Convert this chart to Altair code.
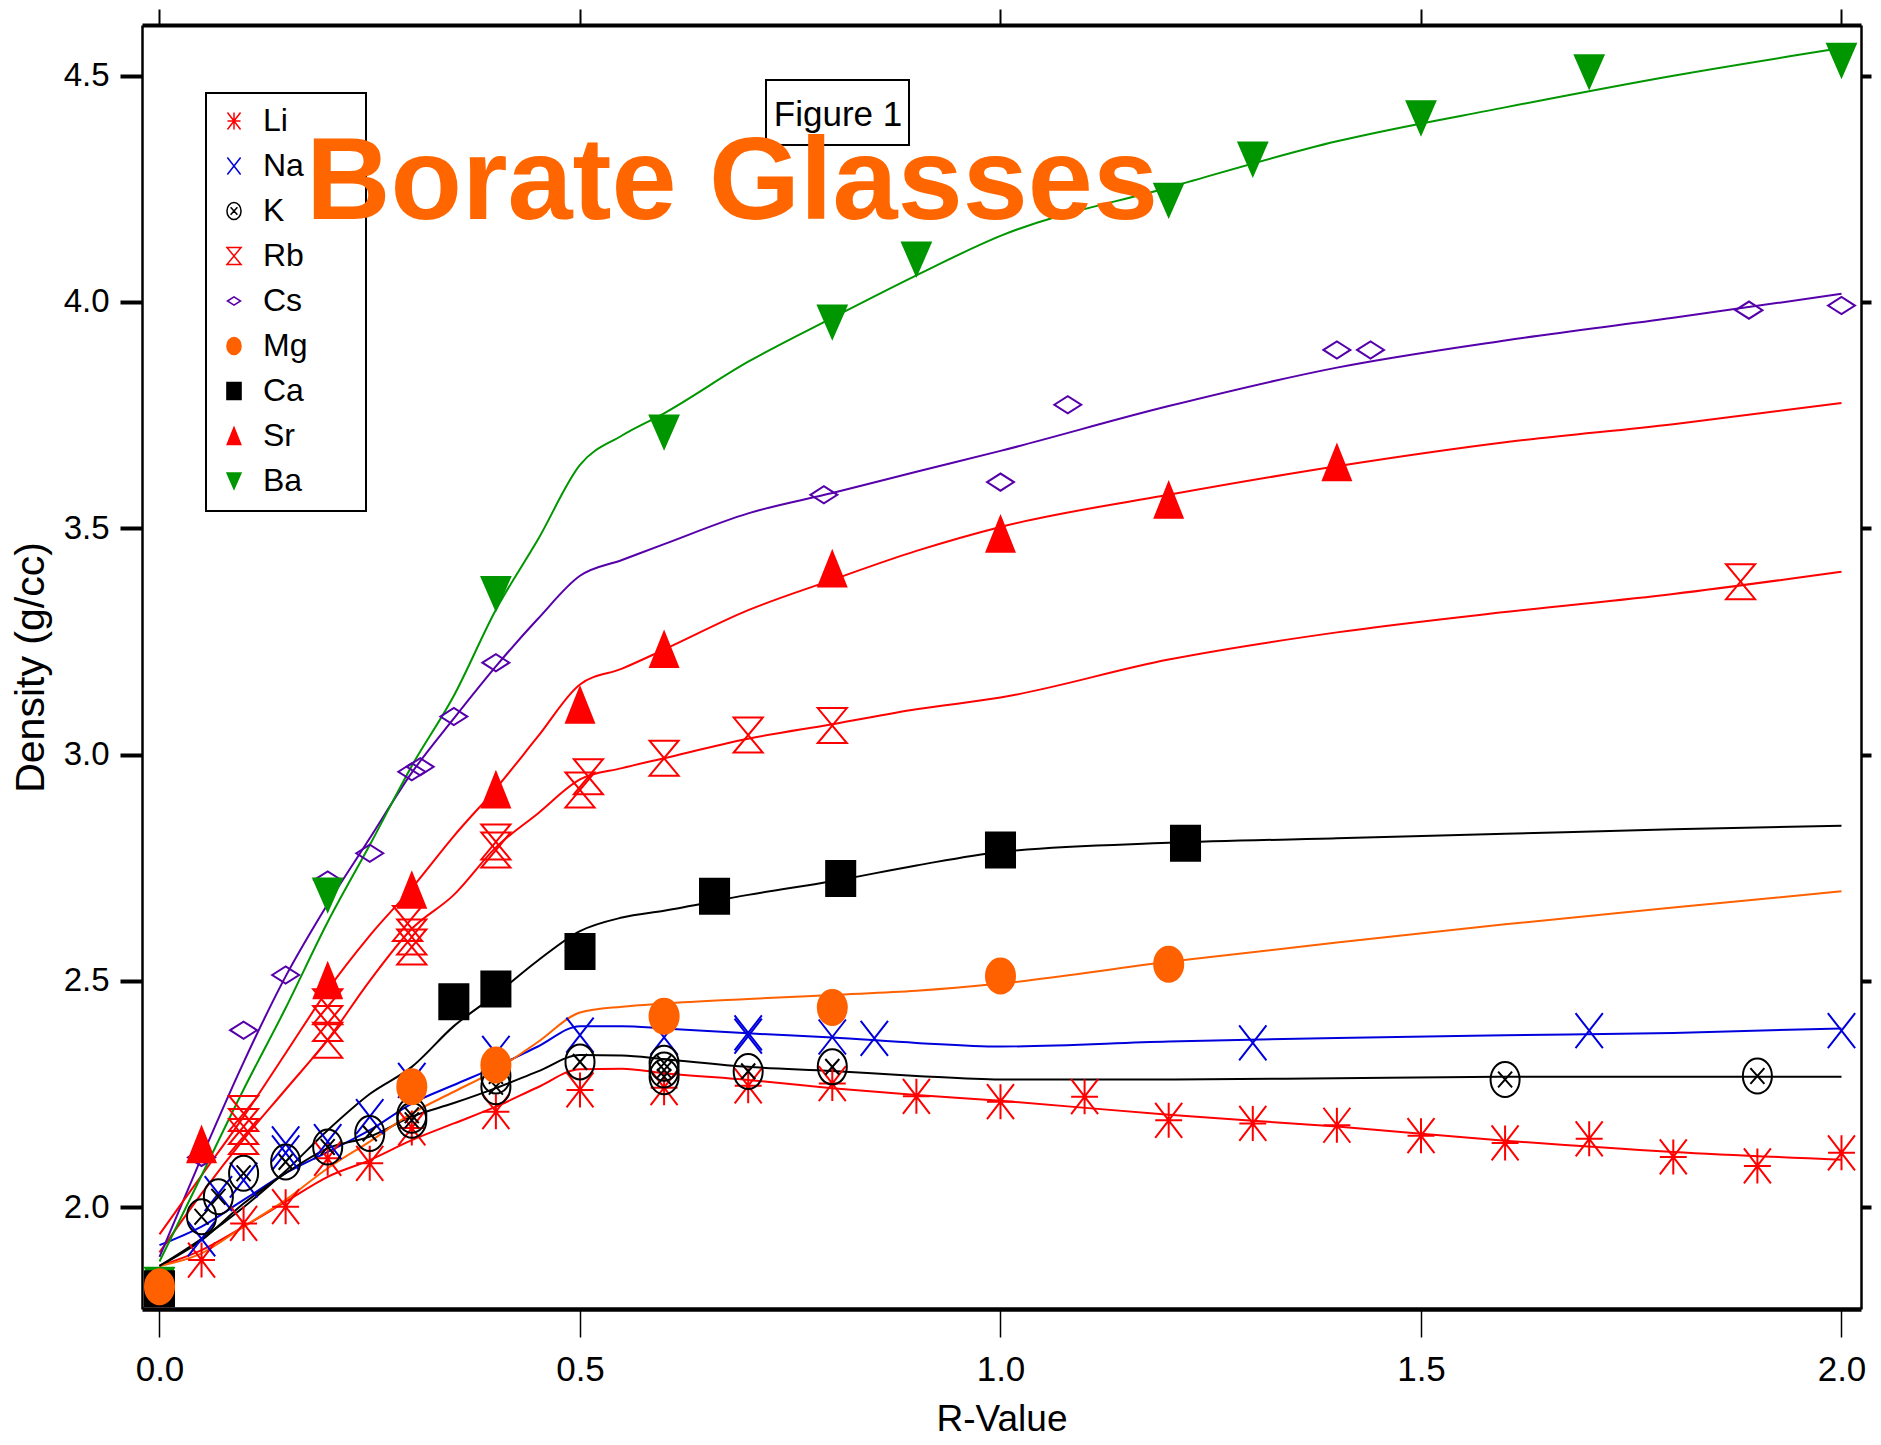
import altair as alt
import pandas as pd

FONT = "'Liberation Sans', Arial, sans-serif"

series_names = ["Li", "Na", "K", "Rb", "Cs", "Mg", "Ca", "Sr", "Ba"]
curve_names = ["Li fit", "Na fit", "K fit", "Rb fit", "Cs fit", "Mg fit", "Ca fit", "Sr fit", "Ba fit"]

# ---- measured points (R-value, density) ----
li_x = [0.05, 0.1, 0.15, 0.2, 0.25, 0.3, 0.4, 0.5, 0.6, 0.7, 0.8, 0.9, 1.0, 1.1, 1.2, 1.3, 1.4, 1.5, 1.6, 1.7, 1.8, 1.9, 2.0]
li_y = [1.883, 1.964, 2.001, 2.108, 2.097, 2.175, 2.211, 2.259, 2.264, 2.268, 2.273, 2.245, 2.233, 2.244, 2.192, 2.185, 2.181, 2.158, 2.142, 2.151, 2.111, 2.091, 2.120]

na_x = [0.05, 0.07, 0.1, 0.15, 0.15, 0.2, 0.25, 0.3, 0.4, 0.5, 0.6, 0.7, 0.7, 0.8, 0.85, 1.3, 1.7, 2.0]
na_y = [1.93, 2.03, 2.06, 2.12, 2.14, 2.145, 2.20, 2.28, 2.34, 2.38, 2.375, 2.378, 2.385, 2.376, 2.373, 2.363, 2.39, 2.39]

k_x = [0.05, 0.07, 0.1, 0.15, 0.2, 0.25, 0.3, 0.3, 0.4, 0.4, 0.5, 0.6, 0.6, 0.6, 0.7, 0.8, 1.6, 1.9]
k_y = [1.979, 2.023, 2.075, 2.100, 2.133, 2.163, 2.192, 2.203, 2.266, 2.29, 2.321, 2.318, 2.303, 2.288, 2.300, 2.310, 2.282, 2.290]

rb_x = [0.1, 0.1, 0.1, 0.2, 0.2, 0.2, 0.295, 0.3, 0.3, 0.4, 0.4, 0.5, 0.51, 0.6, 0.7, 0.8, 1.88]
rb_y = [2.207, 2.178, 2.156, 2.443, 2.406, 2.369, 2.627, 2.597, 2.575, 2.807, 2.789, 2.922, 2.951, 2.992, 3.043, 3.064, 3.382]

cs_x = [0.05, 0.1, 0.15, 0.2, 0.25, 0.3, 0.31, 0.35, 0.4, 0.79, 1.0, 1.08, 1.4, 1.44, 1.89, 2.0]
cs_y = [2.11, 2.391, 2.513, 2.723, 2.782, 2.962, 2.973, 3.084, 3.203, 3.574, 3.602, 3.773, 3.894, 3.894, 3.982, 3.992]

mg_x = [0.0, 0.3, 0.4, 0.6, 0.8, 1.0, 1.2]
mg_y = [1.824, 2.266, 2.314, 2.422, 2.441, 2.511, 2.537]

ca_x = [0.0, 0.35, 0.4, 0.5, 0.66, 0.81, 1.0, 1.22]
ca_y = [1.82, 2.454, 2.482, 2.565, 2.687, 2.726, 2.789, 2.804]

sr_x = [0.05, 0.2, 0.3, 0.4, 0.5, 0.6, 0.8, 1.0, 1.2, 1.4]
sr_y = [2.138, 2.50, 2.70, 2.922, 3.109, 3.232, 3.41, 3.487, 3.562, 3.645]

ba_x = [0.0, 0.2, 0.4, 0.6, 0.8, 0.9, 1.2, 1.3, 1.5, 1.7, 2.0]
ba_y = [1.83, 2.690, 3.356, 3.713, 3.956, 4.095, 4.225, 4.316, 4.407, 4.509, 4.534]

# ---- fitted curves ----
curve_x = [0, 0.05, 0.1, 0.15, 0.2, 0.25, 0.3, 0.35, 0.4, 0.45, 0.5, 0.55, 0.6, 0.7, 0.8, 0.9, 1.0, 1.2, 1.4, 1.6, 1.8, 2.0]
li_fit = [1.87, 1.905, 1.957, 2.012, 2.067, 2.104, 2.148, 2.185, 2.222, 2.265, 2.305, 2.306, 2.296, 2.281, 2.263, 2.248, 2.235, 2.204, 2.178, 2.147, 2.122, 2.105]
na_fit = [1.916, 1.957, 2.016, 2.075, 2.122, 2.170, 2.229, 2.27, 2.31, 2.355, 2.400, 2.400, 2.395, 2.384, 2.375, 2.363, 2.355, 2.366, 2.374, 2.380, 2.385, 2.395]
k_fit = [1.87, 1.927, 2.008, 2.075, 2.130, 2.156, 2.200, 2.23, 2.263, 2.30, 2.336, 2.335, 2.327, 2.310, 2.301, 2.290, 2.282, 2.282, 2.285, 2.288, 2.288, 2.288]
rb_fit = [1.90, 2.03, 2.15, 2.26, 2.37, 2.50, 2.615, 2.69, 2.795, 2.87, 2.945, 2.97, 2.992, 3.035, 3.067, 3.10, 3.126, 3.21, 3.27, 3.315, 3.355, 3.404]
cs_fit = [1.89, 2.11, 2.32, 2.51, 2.67, 2.815, 2.96, 3.08, 3.195, 3.30, 3.395, 3.43, 3.465, 3.533, 3.578, 3.625, 3.671, 3.77, 3.855, 3.915, 3.965, 4.018]
mg_fit = [1.87, 1.898, 1.957, 2.016, 2.086, 2.145, 2.207, 2.255, 2.303, 2.365, 2.430, 2.443, 2.450, 2.460, 2.469, 2.478, 2.494, 2.542, 2.585, 2.625, 2.662, 2.698]
ca_fit = [1.87, 1.93, 2.00, 2.08, 2.17, 2.25, 2.31, 2.40, 2.47, 2.545, 2.61, 2.64, 2.655, 2.69, 2.72, 2.755, 2.785, 2.805, 2.815, 2.825, 2.835, 2.843]
sr_fit = [1.94, 2.07, 2.20, 2.34, 2.48, 2.60, 2.705, 2.82, 2.925, 3.04, 3.155, 3.19, 3.232, 3.319, 3.386, 3.45, 3.503, 3.574, 3.637, 3.69, 3.73, 3.777]
ba_fit = [1.88, 2.07, 2.26, 2.44, 2.63, 2.80, 2.975, 3.13, 3.32, 3.475, 3.64, 3.705, 3.754, 3.868, 3.965, 4.059, 4.146, 4.253, 4.355, 4.43, 4.50, 4.561]

# ---- styles ----
series_colors = ["#FF0000", "#0000DD", "#000000", "#FF0000", "#5500AA", "#FF6000", "#000000", "#FF0000", "#009600"]
NOFILL = "rgba(0,0,0,0)"
fill_colors = [NOFILL, NOFILL, NOFILL, NOFILL, NOFILL, "#FF6000", "#000000", "#FF0000", "#009600"]
shape_paths = [
    "M0,-1L0,1M-0.77,0L0.77,0M-0.77,-1L0.77,1M0.77,-1L-0.77,1",          # Li asterisk
    "M-0.78,-1L0.78,1M0.78,-1L-0.78,1",                                   # Na cross
    "M-0.83,0A0.83 1 0 1 1 0.83,0A0.83 1 0 1 1 -0.83,0ZM-0.4,-0.45L0.4,0.45M0.4,-0.45L-0.4,0.45",  # K circled x
    "M-0.83,-1L0.83,-1L-0.83,1L0.83,1Z",                                  # Rb hourglass
    "M-0.77,0L0,-0.49L0.77,0L0,0.49Z",                                    # Cs diamond
    "M-0.83,0A0.83 1 0 1 1 0.83,0A0.83 1 0 1 1 -0.83,0Z",                 # Mg disc
    "M-0.83,-1L0.83,-1L0.83,1L-0.83,1Z",                                  # Ca square
    "M0,-1L0.8,1L-0.8,1Z",                                                # Sr triangle up
    "M-0.82,-0.94L0.82,-0.94L0,0.94Z",                                    # Ba triangle down
]

point_sets = {"Li": (li_x, li_y), "Na": (na_x, na_y), "K": (k_x, k_y), "Rb": (rb_x, rb_y),
              "Cs": (cs_x, cs_y), "Mg": (mg_x, mg_y), "Ca": (ca_x, ca_y), "Sr": (sr_x, sr_y), "Ba": (ba_x, ba_y)}
fit_sets = {"Li": li_fit, "Na": na_fit, "K": k_fit, "Rb": rb_fit, "Cs": cs_fit,
            "Mg": mg_fit, "Ca": ca_fit, "Sr": sr_fit, "Ba": ba_fit}
draw_order = ["Li", "Na", "K", "Rb", "Cs", "Sr", "Ba", "Ca", "Mg"]

pts_rows = []
for s in draw_order:
    xs, ys = point_sets[s]
    for a, b in zip(xs, ys):
        pts_rows.append({"series": s, "r": a, "d": b})
points_df = pd.DataFrame(pts_rows)

curve_rows = []
for s, cname in zip(series_names, curve_names):
    for a, b in zip(curve_x, fit_sets[s]):
        curve_rows.append({"curve": cname, "r": a, "d": b})
curves_df = pd.DataFrame(curve_rows)

x_scale = alt.Scale(domain=[-0.0208, 2.0232], nice=False, zero=False)
y_scale = alt.Scale(domain=[1.775, 4.612], nice=False, zero=False)
x_ticks = [0.0, 0.5, 1.0, 1.5, 2.0]
y_ticks = [2.0, 2.5, 3.0, 3.5, 4.0, 4.5]

lines = alt.Chart(curves_df).mark_line(strokeWidth=2, interpolate="monotone").encode(
    x=alt.X("r:Q", scale=x_scale, axis=alt.Axis(
        orient="bottom", values=x_ticks, format=".1f", grid=False,
        tickSize=28, tickWidth=1.5, tickColor="black", domainColor="black", domainWidth=4.5,
        labelFont=FONT, labelFontSize=35, labelColor="black", labelPadding=15,
        title="R-Value", titleFont=FONT, titleFontSize=37, titleFontWeight="normal",
        titleColor="black", titlePadding=14)),
    y=alt.Y("d:Q", scale=y_scale, axis=alt.Axis(
        orient="left", values=y_ticks, format=".1f", grid=False,
        tickSize=22, tickWidth=4, tickColor="black", domainColor="black", domainWidth=2.5,
        labelFont=FONT, labelFontSize=33, labelColor="black", labelPadding=11,
        title="Density (g/cc)", titleFont=FONT, titleFontSize=41, titleFontWeight="normal",
        titleColor="black", titlePadding=11)),
    color=alt.Color("curve:N", scale=alt.Scale(domain=curve_names, range=series_colors), legend=None),
)

legend = alt.Legend(title=None, orient="none", legendX=76, legendY=80, padding=0,
                    symbolSize=289, symbolStrokeWidth=1.5, labelFont=FONT, labelFontSize=32,
                    labelColor="black", labelOffset=13, rowPadding=13)

points = alt.Chart(points_df).mark_point(size=1225, opacity=1, strokeWidth=2).encode(
    x=alt.X("r:Q", scale=x_scale, axis=alt.Axis(
        orient="top", values=x_ticks, labels=False, grid=False, title=None, minExtent=0,
        tickSize=16, tickWidth=2, tickColor="black", domainColor="black", domainWidth=4)),
    y=alt.Y("d:Q", scale=y_scale, axis=alt.Axis(
        orient="right", values=y_ticks, labels=False, grid=False, title=None, minExtent=0,
        tickSize=10, tickWidth=4, tickColor="black", domainColor="black", domainWidth=2.5)),
    shape=alt.Shape("series:N", scale=alt.Scale(domain=series_names, range=shape_paths), legend=legend),
    fill=alt.Fill("series:N", scale=alt.Scale(domain=series_names, range=fill_colors), legend=legend),
    stroke=alt.Stroke("series:N", scale=alt.Scale(domain=series_names, range=series_colors), legend=legend),
)

one = pd.DataFrame({"k": [0]})
legend_frame = alt.Chart(one).mark_rect(fill="white", stroke="black", strokeWidth=2).encode(
    x=alt.value(64), x2=alt.value(224), y=alt.value(68), y2=alt.value(486))
fig_box = alt.Chart(one).mark_rect(fill="white", stroke="black", strokeWidth=2).encode(
    x=alt.value(624), x2=alt.value(767), y=alt.value(55), y2=alt.value(120))
fig_text = alt.Chart(one).mark_text(text="Figure 1", font=FONT, fontSize=35, align="center",
                                    baseline="alphabetic", color="black").encode(
    x=alt.value(696), y=alt.value(101))
borate = alt.Chart(one).mark_text(text="Borate Glasses", font=FONT, fontWeight="bold", fontSize=117,
                                  align="left", baseline="alphabetic", color="#FF6600").encode(
    x=alt.value(164), y=alt.value(194))

chart = alt.layer(lines, points, legend_frame, fig_box, fig_text, borate).resolve_axis(
    x="independent", y="independent"
).properties(
    width=1719, height=1284,
    padding={"left": 2, "top": 0, "right": 0, "bottom": 0},
).configure_view(strokeWidth=0)

chart.save("out.html", embed_options={"renderer": "svg", "actions": False})
